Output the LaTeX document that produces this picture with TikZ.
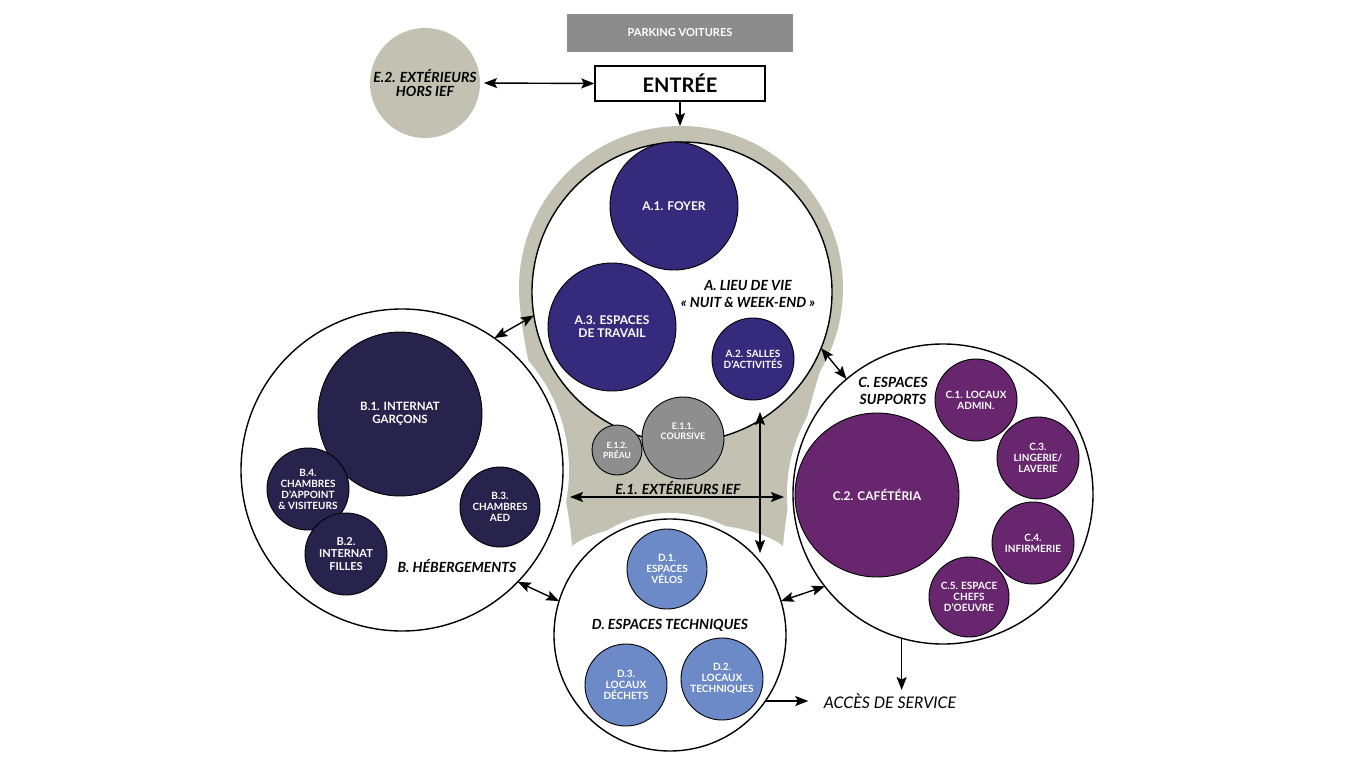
\documentclass[tikz,border=0pt]{standalone}
\usepackage{fontspec}
\setmainfont{Lato}
\usetikzlibrary{arrows.meta}
\definecolor{ringgray}{RGB}{195,194,178}
\definecolor{parkgray}{RGB}{140,140,140}
\definecolor{egray}{RGB}{142,142,142}
\definecolor{colA}{RGB}{53,42,123}
\definecolor{colB}{RGB}{39,35,77}
\definecolor{colC}{RGB}{104,38,110}
\definecolor{colD}{RGB}{107,138,199}
\begin{document}
\begin{tikzpicture}[x=1pt,y=-1pt,
  big/.style={circle, draw=black, line width=1.4pt, fill=white, inner sep=0pt, outer sep=0pt},
  halo/.style={preaction={draw=white, line width=12pt}},
  sub/.style={circle, draw=black, line width=0.9pt, inner sep=0pt, outer sep=0pt, text=white, align=center, font=\bfseries\fontsize{10}{11}\selectfont},
  subA/.style={sub, fill=colA},
  subB/.style={sub, fill=colB},
  subC/.style={sub, fill=colC},
  subD/.style={sub, fill=colD},
  subE/.style={sub, fill=egray},
  grp/.style={align=center, font=\bfseries\itshape\fontsize{14}{16.5}\selectfont},
  tip/.tip={Stealth[length=13pt,width=10pt,inset=2.5pt]},
  arr/.style={-tip, line width=1.4pt},
  darr/.style={tip-tip, line width=1.4pt}]
\useasboundingbox (0,0) rectangle (1366,768);
\fill[white] (0,0) rectangle (1366,768);

% grey outdoor shape
\fill[ringgray] (681,288) circle[radius=162pt];
\fill[ringgray] (520,305) .. controls (528,400) and (566,460) .. (572,546)
   .. controls (610,515) and (745,515) .. (783,546)
   .. controls (790,470) and (812,390) .. (842,305) -- cycle;

% top
\node[fill=parkgray, minimum width=226pt, minimum height=38pt, text=white,
      font=\bfseries\fontsize{11}{13}\selectfont] (parking) at (680,33) {PARKING VOITURES};
\node[draw=black, fill=white, line width=1.4pt, minimum width=170pt, minimum height=35pt,
      font=\bfseries\fontsize{20}{23}\selectfont] (entree) at (680,83.5) {ENTRÉE};
\node[circle, fill=ringgray, minimum size=110pt, inner sep=0pt, outer sep=0pt, align=center,
      font=\bfseries\itshape\fontsize{14}{14.5}\selectfont] (e2) at (425,83) {E.2. EXTÉRIEURS\\HORS IEF};

% big circles
\node[big, halo, minimum size=322pt] (B) at (402,470) {};
\node[big, halo, minimum size=300pt] (C) at (943,494) {};
\node[big, halo, minimum size=232pt] (D) at (670,635) {};
\node[big, minimum size=300pt] (A) at (682,292) {};

% A
\node[subA, minimum size=128pt, font=\bfseries\fontsize{12}{13}\selectfont] (a1) at (674,206) {A.1. FOYER};
\node[subA, minimum size=128pt, font=\bfseries\fontsize{12}{13}\selectfont] (a3) at (612,327) {A.3. ESPACES\\DE TRAVAIL};
\node[subA, minimum size=82pt] (a2) at (753,359) {A.2. SALLES\\D'ACTIVITÉS};
\node[grp] (labA) at (748,294) {A. LIEU DE VIE\\« NUIT \& WEEK-END »};

% E.1
\node[subE, minimum size=82pt, font=\bfseries\fontsize{9}{10.5}\selectfont] (e11) at (683,438) {E.1.1.\\COURSIVE\\[3pt]};
\node[subE, minimum size=50pt, font=\bfseries\fontsize{8.5}{10}\selectfont] (e12) at (617,450) {E.1.2.\\PRÉAU};
\node[grp] (labE) at (678,488) {E.1. EXTÉRIEURS IEF};
\coordinate (e1l) at (570,497);
\coordinate (e1r) at (784,497);
\coordinate (e1t) at (760,412);
\coordinate (e1b) at (760,553);

% B
\node[subB, minimum size=164pt, font=\bfseries\fontsize{11.5}{12.5}\selectfont] (b1) at (400,414) {B.1. INTERNAT\\GARÇONS};
\node[subB, minimum size=82pt] (b4) at (308,489) {B.4.\\CHAMBRES\\D'APPOINT\\\& VISITEURS};
\node[subB, minimum size=82pt, font=\bfseries\fontsize{11}{12.5}\selectfont] (b2) at (346,554) {B.2.\\INTERNAT\\FILLES};
\node[subB, minimum size=80pt] (b3) at (500,507) {B.3.\\CHAMBRES\\AED};
\node[grp] (labB) at (457,566) {B. HÉBERGEMENTS};

% C
\node[subC, minimum size=82pt] (c1) at (976,400) {C.1. LOCAUX\\ADMIN.};
\node[subC, minimum size=164pt, font=\bfseries\fontsize{12}{13}\selectfont] (c2) at (877,495) {C.2. CAFÉTÉRIA};
\node[subC, minimum size=82pt] (c3) at (1038,458) {C.3.\\LINGERIE/\\LAVERIE};
\node[subC, minimum size=82pt] (c4) at (1033,543) {C.4.\\INFIRMERIE};
\node[subC, minimum size=80pt] (c5) at (969,597) {C.5. ESPACE\\CHEFS\\D'OEUVRE};
\node[grp] (labC) at (893,391) {C. ESPACES\\SUPPORTS};

% D
\node[subD, minimum size=80pt] (d1) at (667,569) {D.1.\\ESPACES\\VÉLOS};
\node[subD, minimum size=82pt] (d3) at (626,685) {D.3.\\LOCAUX\\DÉCHETS};
\node[subD, minimum size=82pt] (d2) at (722,679) {D.2.\\LOCAUX\\TECHNIQUES};
\node[grp] (labD) at (670,625) {D. ESPACES TECHNIQUES};

\node[font=\itshape\fontsize{16}{19}\selectfont] (acces) at (890,701) {ACCÈS DE SERVICE};
\coordinate (ringtop) at (680,126);

% connectors
\draw[darr] ([xshift=4pt]e2.east) -- (entree.west);
\draw[arr] (entree.south) -- (ringtop);
\draw[darr] (B.55) -- (A.189);
\draw[darr] (A.-22) -- (C.130);
\draw[darr] (B.-44) -- (D.163);
\draw[darr] (D.17) -- (C.218);
\draw[darr] (e1l) -- (e1r);
\draw[darr] (e1t) -- (e1b);
\draw[arr] (C.254) -- (C.254 |- acces.north);
\draw[arr] (D.-35 |- acces.west) -- ([xshift=-12pt]acces.west);
\end{tikzpicture}
\end{document}
